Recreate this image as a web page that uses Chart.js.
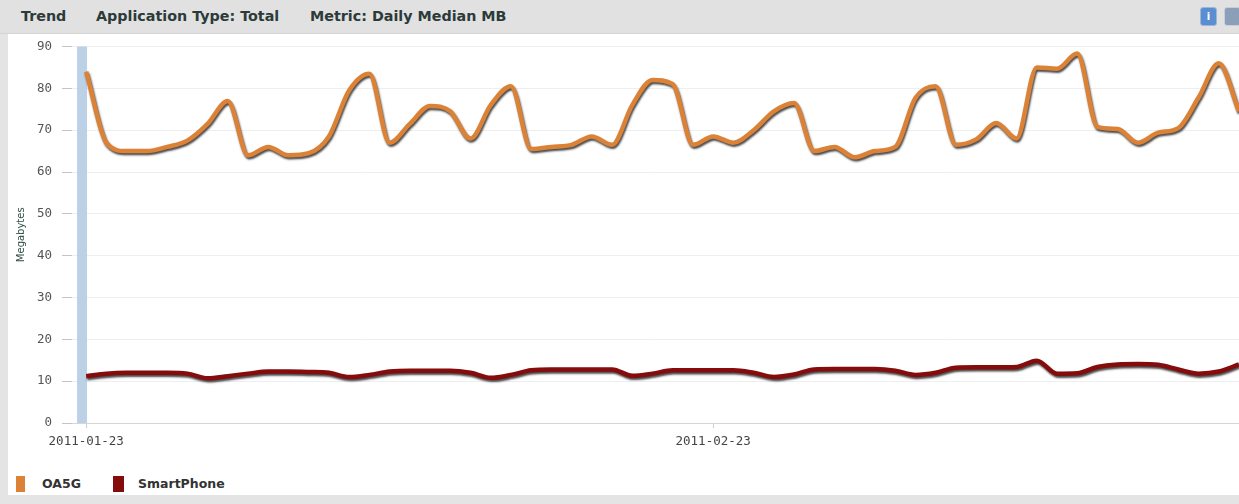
<!DOCTYPE html>
<html>
<head>
<meta charset="utf-8">
<script src="https://cdn.jsdelivr.net/npm/chart.js@4/dist/chart.umd.min.js"></script>
<style>
  html, body { margin: 0; padding: 0; }
  body { width: 1239px; height: 504px; background: #e4e4e4; position: relative; overflow: hidden; font-family: "DejaVu Sans", sans-serif; }
  .bar { position: absolute; left: 0; top: 0; width: 1239px; height: 33px; background: #e1e1e1; border-bottom: 1px solid #d4d4d4; }
  .bar span { position: absolute; top: 8px; font-size: 14.3px; font-weight: bold; color: #2c3a3a; white-space: nowrap; }
  .icon { position: absolute; top: 7px; width: 15px; height: 17px; border-radius: 3px; }
  .icon.info { left: 1200px; background: #5b8ed0; border: 1px solid #9fb7d6; color: #fff; font-size: 10px; font-weight: bold; text-align: center; line-height: 17px; }
  .icon.cam { left: 1224px; background: #8c9fb8; border: 1px solid #c9cfd8; }
  .panel { position: absolute; left: 8px; top: 34px; width: 1231px; height: 461px; background: #fff; }
  #chart { position: absolute; left: 0; top: -5px; }
  #legend { position: absolute; left: 0; top: 442px; height: 16px; }
  .item { position: absolute; top: 0; height: 16px; white-space: nowrap; }
  .item i { position: absolute; left: 0; top: 0; height: 16px; }
  .item b { position: absolute; top: 0; font-size: 12.5px; color: #333; }
</style>
</head>
<body>
<div class="bar">
  <span style="left:21px">Trend</span>
  <span style="left:96px">Application Type: Total</span>
  <span style="left:310px">Metric: Daily Median MB</span>
  <div class="icon info">i</div>
  <div class="icon cam"></div>
</div>
<div class="panel">
  <canvas id="chart" width="1231" height="433"></canvas>
  <div id="legend"></div>
</div>
<script>
const dates = [
  '2011-01-23', '2011-01-24', '2011-01-25', '2011-01-26', '2011-01-27', '2011-01-28', '2011-01-29',
  '2011-01-30', '2011-01-31', '2011-02-01', '2011-02-02', '2011-02-03', '2011-02-04', '2011-02-05',
  '2011-02-06', '2011-02-07', '2011-02-08', '2011-02-09', '2011-02-10', '2011-02-11', '2011-02-12',
  '2011-02-13', '2011-02-14', '2011-02-15', '2011-02-16', '2011-02-17', '2011-02-18', '2011-02-19',
  '2011-02-20', '2011-02-21', '2011-02-22', '2011-02-23', '2011-02-24', '2011-02-25', '2011-02-26',
  '2011-02-27', '2011-02-28', '2011-03-01', '2011-03-02', '2011-03-03', '2011-03-04', '2011-03-05',
  '2011-03-06', '2011-03-07', '2011-03-08', '2011-03-09', '2011-03-10', '2011-03-11', '2011-03-12',
  '2011-03-13', '2011-03-14', '2011-03-15', '2011-03-16', '2011-03-17', '2011-03-18', '2011-03-19',
  '2011-03-20', '2011-03-21'
];

const shownDates = ['2011-01-23', '2011-02-23'];

const oa5g = [
  84, 67, 65, 65, 66, 67.5, 71.5, 77, 64, 66,
  64, 64.5, 68.5, 79.5, 83.5, 67, 71.5, 75.8, 74.5, 68,
  76, 80.5, 65.5, 66, 66.5, 68.5, 66.5, 76, 82, 81,
  66.5, 68.5, 67, 70, 74.5, 76.5, 65, 66, 63.5, 65,
  66, 77.7, 80.5, 66.5, 67.8, 71.7, 68, 85, 84.7, 88.3,
  70.8, 70.3, 67, 69.4, 70.5, 77.8, 86, 74.5
];

const smartPhone = [
  11.2, 11.8, 12, 12, 12, 11.8, 10.7, 11.2, 11.8, 12.3,
  12.3, 12.2, 12, 11, 11.5, 12.3, 12.5, 12.5, 12.5, 12,
  10.8, 11.5, 12.6, 12.8, 12.8, 12.8, 12.8, 11.3, 11.8, 12.6,
  12.6, 12.6, 12.6, 12, 11, 11.6, 12.8, 12.9, 12.9, 12.9,
  12.5, 11.5, 12, 13.2, 13.3, 13.3, 13.4, 14.9, 11.8, 11.9,
  13.4, 14, 14.1, 13.9, 12.8, 11.8, 12.3, 14
];

const seriesNames = ['OA5G', 'SmartPhone'];
const seriesColors = ['#dc8237', '#840c0c'];

// the dark drop shadow under each thick line
const lineShadow = {
    id: 'lineShadow',
    beforeDatasetDraw(chart) {
        const ctx = chart.ctx;
        ctx.save();
        ctx.shadowColor = 'rgba(30, 30, 30, 0.8)';
        ctx.shadowBlur = 2;
        ctx.shadowOffsetX = 1;
        ctx.shadowOffsetY = 2;
    },
    afterDatasetDraw(chart) {
        chart.ctx.restore();
    }
};

// light blue navigator strip at the start of the time axis
const startBand = {
    id: 'startBand',
    beforeDatasetsDraw(chart) {
        const ctx = chart.ctx;
        const area = chart.chartArea;
        ctx.save();
        ctx.fillStyle = '#bcd0e6';
        ctx.fillRect(area.left + 5, area.top, 10, area.bottom - area.top);
        ctx.restore();
    }
};

const chart = new Chart(
    document.getElementById('chart'),
    {
        type: 'line',
        data: {
            datasets: [oa5g, smartPhone].map((values, s) => ({
                label: seriesNames[s],
                data: values.map((v, i) => ({ x: i, y: v })),
                borderColor: seriesColors[s],
                backgroundColor: seriesColors[s],
                borderWidth: 4.5,
                pointRadius: 0,
                cubicInterpolationMode: 'monotone',
                fill: false
            }))
        },
        options: {
            responsive: false,
            animation: false,
            layout: {
                padding: { top: 7, left: 3, right: 0, bottom: 7 }
            },
            plugins: {
                legend: { display: false },
                tooltip: { enabled: false }
            },
            scales: {
                x: {
                    type: 'linear',
                    min: -0.7,
                    max: dates.length - 1,
                    afterBuildTicks(scale) {
                        scale.ticks = shownDates.map(d => ({ value: dates.indexOf(d) }));
                    },
                    ticks: {
                        autoSkip: false,
                        maxRotation: 0,
                        padding: 6,
                        color: '#444',
                        font: { family: 'DejaVu Sans Mono', size: 12.5 },
                        callback: value => dates[value]
                    },
                    grid: {
                        drawOnChartArea: false,
                        tickLength: 5,
                        color: '#cfcfcf'
                    },
                    border: { color: '#d6d6d6' }
                },
                y: {
                    min: 0,
                    max: 90,
                    ticks: {
                        stepSize: 10,
                        padding: 10,
                        color: '#555',
                        font: { family: 'DejaVu Sans Mono', size: 12.5 }
                    },
                    grid: {
                        color: '#eceef1',
                        tickColor: '#c4c4c4',
                        tickLength: 10
                    },
                    border: { display: false },
                    title: {
                        display: true,
                        text: 'Megabytes',
                        color: '#2f4a3f',
                        font: { family: 'DejaVu Sans', size: 10 },
                        padding: { top: 4, bottom: 0 }
                    }
                }
            }
        },
        plugins: [startBand, lineShadow]
    }
);

// legend row under the plot
const legend = document.getElementById('legend');
const legendLeft = [8, 105];
const legendBox = [9, 11];
chart.data.datasets.forEach((ds, i) => {
    const item = document.createElement('div');
    item.className = 'item';
    item.style.left = legendLeft[i] + 'px';
    item.innerHTML = '<i style="width:' + legendBox[i] + 'px;background:' + ds.borderColor + '"></i>' +
        '<b style="left:' + (i === 0 ? 26 : 25) + 'px">' + ds.label + '</b>';
    legend.appendChild(item);
});
</script>
</body>
</html>
